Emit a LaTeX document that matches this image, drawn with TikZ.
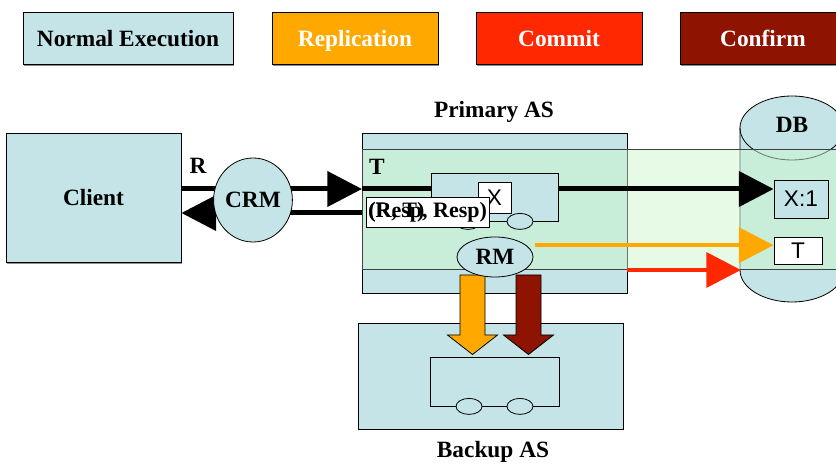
\documentclass[tikz,border=0pt]{standalone}
\usepackage{fontspec}
\setmainfont{Liberation Serif}
\newfontfamily\varfont{Liberation Sans}
\usetikzlibrary{arrows.meta,positioning,shadows,shapes.geometric}
\tikzset{every picture/.style={
  >={Triangle[length=26pt,width=26pt]}  % Big solid arrow heads.
  }
}
\definecolor{asblue}{HTML}{C4E4E7}
\definecolor{replorange}{HTML}{FFA800}
\definecolor{commitred}{HTML}{FF2800}
\definecolor{confirmred}{HTML}{8E1300}
\definecolor{bandgreen}{RGB}{205,246,205}

\begin{document}
\begin{tikzpicture}[
        x=0.75pt, y=0.75pt,
        font=\fontsize{17.5}{20}\selectfont\bfseries,
        shade/.style={
          drop shadow={shadow xshift=0.6pt, shadow yshift=-1.4pt,
                       fill=black!45, opacity=1}
        },
        legend/.style={
          draw,
          fill=#1,
          shade,
          line width=0.6pt,
          inner sep=0pt,
          text height=12.5pt,
          text depth=0pt,
          minimum width=124.5pt,
          minimum height=39pt
        },
        box/.style={draw, fill=asblue, line width=0.6pt, inner sep=0pt},
        blob/.style={draw, ellipse, fill=asblue, line width=0.6pt, inner sep=0pt},
        wheel/.style={blob, minimum width=19.5pt, minimum height=12pt},
        var/.style={
          draw,
          fill=#1,
          line width=0.6pt,
          inner sep=0pt,
          font=\varfont\fontsize{17}{20}\selectfont
        },
        tag/.style={inner sep=1.5pt, font=\fontsize{16.5}{19}\selectfont\bfseries},
        band/.style={draw=black!75, line width=0.6pt, fill=bandgreen, fill opacity=0.5},
        flow/.style={->, line width=3.75pt},
        drop/.style={draw, line width=0.6pt}
      ]

        \useasboundingbox (0,0) rectangle (836,-466);

        % Helper macro: fat arrow from RM down to the backup.
        \def\down#1#2{\draw[drop, fill=#2] (#1-12.5,-275) -- ++(25,0)
          -- ++(0,-60) -- ++(12.5,0) -- ++(-25,-19.5) -- ++(-25,19.5)
          -- ++(12.5,0) -- cycle}

        % Draw the legend.
        \node[legend=asblue, minimum width=157.5pt] (normal) at (128,-38) {Normal Execution};
        \node[legend=replorange, text=white] (repl)    at (355,-38) {Replication};
        \node[legend=commitred, text=white]  (commit)  at (559,-38) {Commit};
        \node[legend=confirmred, text=white] (confirm) at (763,-38) {Confirm};

        % Client.
        \node[box, shade, minimum width=131.25pt, minimum height=96.75pt]
          (client) at (93.5,-197.5) {Client};

        % The database cylinder.
        \draw[line width=0.6pt, fill=asblue] (740,-128) -- (740,-270)
          arc[start angle=180, end angle=360, x radius=39pt, y radius=24pt]
          -- (844,-128)
          arc[start angle=0, end angle=180, x radius=39pt, y radius=24pt] -- cycle;
        \draw[line width=0.6pt] (740,-128)
          arc[start angle=180, end angle=360, x radius=39pt, y radius=24pt];
        \node[anchor=base] (db) at (792,-133) {DB};
        \coordinate (db-w) at (741,-270);

        % Primary and backup AS.
        \node[box, minimum width=198.75pt, minimum height=120pt] (primary) at (494.5,-213) {};
        \node[anchor=base] (primary-lbl) at (494,-118) {Primary AS};
        \node[box, minimum width=198.75pt, minimum height=79.5pt] (backup) at (490.5,-376) {};
        \node[box, minimum width=96.75pt, minimum height=36.75pt] (binner) at (494.5,-381.5) {};
        \node[wheel] (bw1) at ([xshift=-19.1pt] binner.south) {};
        \node[wheel] (bw2) at ([xshift=19.1pt] binner.south) {};
        \node[anchor=base] (backup-lbl) at (493,-458) {Backup AS};

        % The transaction band.
        \draw[band] (362,-149) rectangle (845,-269);

        % Items in the DB.
        \node[var=asblue, minimum width=40.5pt, minimum height=28.5pt] (x1) at (801,-199) {X:1};
        \node[var=white, minimum width=36pt, minimum height=20.25pt] (tbox) at (798,-250.5) {T};

        % Request and response.
        \coordinate (tin)  at (362,-189);
        \coordinate (tout) at (362,-213);
        \draw[flow] (client.east |- tin) -- (tin);
        \draw[flow] (tin) -- (x1.west |- tin);
        \draw[flow] (tout) -- (client.east |- tout);
        \draw[flow, commitred, line width=3.5pt] (primary.east |- db-w) -- (db-w);

        \node[blob, minimum width=49.5pt, minimum height=63pt] (crm) at (253,-200) {CRM};
        \node (r-lbl) at (198,-166) {R};
        \node (t-lbl) at (377,-167) {T};

        % The transaction inside the primary.
        \node[box, minimum width=95.25pt, minimum height=36pt] (pinner) at (494.5,-197) {};
        \node[var=white, minimum width=24.75pt, minimum height=23.25pt] (x) at (494.5,-197.5) {X};
        \node[wheel] (pw1) at ([xshift=-19.9pt] pinner.south) {};
        \node[wheel] (pw2) at ([xshift=19.1pt] pinner.south) {};
        \node[tag, draw, fill=white, line width=0.6pt, minimum height=22.5pt, anchor=west]
          (resp) at (366,-212) {(Resp, Resp)};
        \node[tag, anchor=base west] (rt) at (resp.base west) {(R, T)};

        % Replication and confirm to the backup.
        \down{472.5}{replorange};
        \down{528.5}{confirmred};

        \node[blob, minimum width=57pt, minimum height=30pt] (rm) at (495,-257) {RM};
        \coordinate (t-in) at ([yshift=4pt] tbox.west);
        \draw[flow, replorange, line width=3.5pt] ([xshift=1.5pt] rm.east |- t-in) -- (t-in);
      \end{tikzpicture}
\end{document}
